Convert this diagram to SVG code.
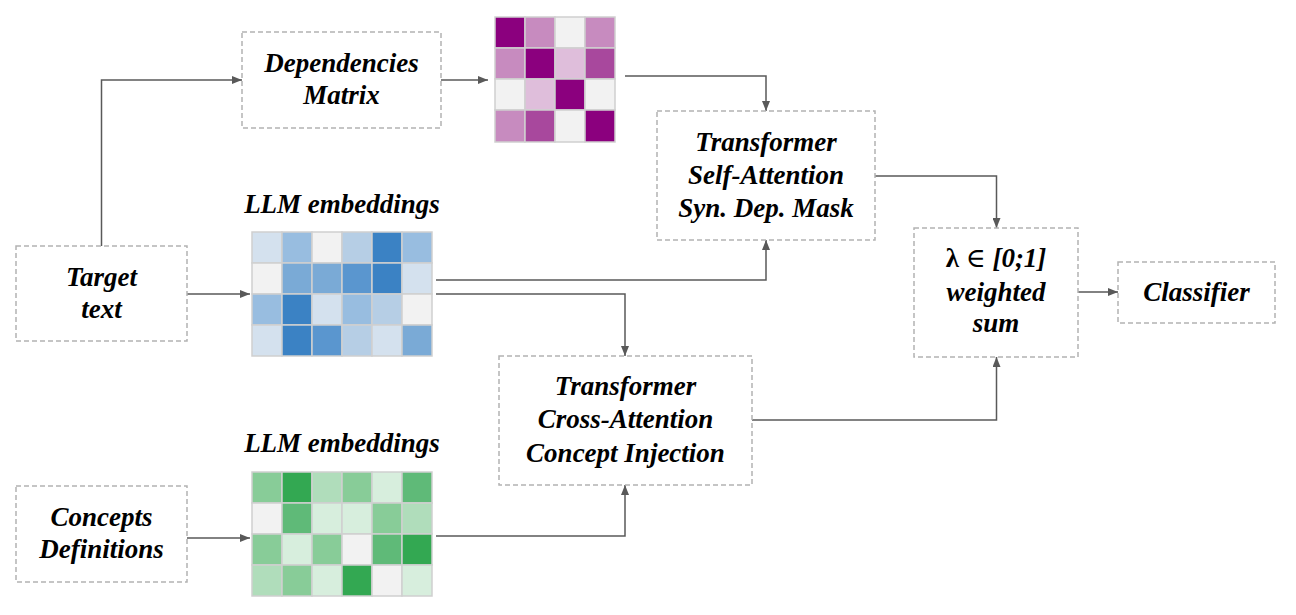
<svg xmlns="http://www.w3.org/2000/svg" width="1296" height="615" viewBox="0 0 1296 615">
<defs>
<marker id="ah" markerWidth="10" markerHeight="8" refX="10" refY="4" orient="auto" markerUnits="userSpaceOnUse">
<path d="M0,0 L10,4 L0,8 z" fill="#595959"/>
</marker>
<style>
.box{fill:#ffffff;stroke:#b3b3b3;stroke-width:1.5;stroke-dasharray:5,3}
.lbl{font-weight:bold;font-style:italic;font-size:27px;fill:#000;text-anchor:middle}
.con{fill:none;stroke:#595959;stroke-width:1.5;marker-end:url(#ah)}
.cell{stroke:#cfcfcf;stroke-width:1.5}
</style>
</defs>
<rect width="1296" height="615" fill="#ffffff"/>

<g id="connectors">
<path class="con" d="M101.5,246 V80 H242"/>
<path class="con" d="M441,80 H488"/>
<path class="con" d="M625,76 H766 V111"/>
<path class="con" d="M187,294 H250"/>
<path class="con" d="M436,280 H766 V240"/>
<path class="con" d="M436,294 H625 V356"/>
<path class="con" d="M187,538 H250"/>
<path class="con" d="M436,536 H625 V485"/>
<path class="con" d="M875,176 H996.5 V228"/>
<path class="con" d="M752,420 H996.5 V357"/>
<path class="con" d="M1078,292 H1118"/>
</g>

<g font-family="Liberation Serif, DejaVu Serif, serif">
<g id="dependencies-matrix">
<rect class="box" x="242" y="32" width="199" height="96"/>
<text class="lbl" x="341.5" y="72">Dependencies</text>
<text class="lbl" x="341.5" y="104">Matrix</text>
</g>

<g id="target-text">
<rect class="box" x="16" y="246" width="171" height="95"/>
<text class="lbl" x="101.5" y="286">Target</text>
<text class="lbl" x="101.5" y="318">text</text>
</g>

<g id="concepts-definitions">
<rect class="box" x="16" y="486" width="171" height="96"/>
<text class="lbl" x="101.5" y="526">Concepts</text>
<text class="lbl" x="101.5" y="558">Definitions</text>
</g>

<g id="self-attention">
<rect class="box" x="657" y="111" width="218" height="129"/>
<text class="lbl" x="766" y="151">Transformer</text>
<text class="lbl" x="766" y="184">Self-Attention</text>
<text class="lbl" x="766" y="217">Syn. Dep. Mask</text>
</g>

<g id="cross-attention">
<rect class="box" x="499" y="356" width="253" height="129"/>
<text class="lbl" x="625.5" y="395">Transformer</text>
<text class="lbl" x="625.5" y="428">Cross-Attention</text>
<text class="lbl" x="625.5" y="462">Concept Injection</text>
</g>

<g id="weighted-sum">
<rect class="box" x="914" y="228" width="164" height="129"/>
<text class="lbl" x="996" y="267"><tspan font-style="normal">λ</tspan><tspan font-style="normal" font-weight="normal"> ∈ </tspan> [0;1]</text>
<text class="lbl" x="996" y="301">weighted</text>
<text class="lbl" x="996" y="332">sum</text>
</g>

<g id="classifier">
<rect class="box" x="1118" y="262" width="157" height="61"/>
<text class="lbl" x="1196.5" y="301">Classifier</text>
</g>

<g id="dependency-heatmap">
<rect class="cell" x="495" y="17" width="30" height="31" fill="#8b007e"/>
<rect class="cell" x="525" y="17" width="30" height="31" fill="#c78bbf"/>
<rect class="cell" x="555" y="17" width="30" height="31" fill="#f2f2f2"/>
<rect class="cell" x="585" y="17" width="30" height="31" fill="#c78bbf"/>
<rect class="cell" x="495" y="48" width="30" height="31" fill="#c78bbf"/>
<rect class="cell" x="525" y="48" width="30" height="31" fill="#8b007e"/>
<rect class="cell" x="555" y="48" width="30" height="31" fill="#dfbedb"/>
<rect class="cell" x="585" y="48" width="30" height="31" fill="#a8489d"/>
<rect class="cell" x="495" y="79" width="30" height="31" fill="#f2f2f2"/>
<rect class="cell" x="525" y="79" width="30" height="31" fill="#dfbedb"/>
<rect class="cell" x="555" y="79" width="30" height="31" fill="#8b007e"/>
<rect class="cell" x="585" y="79" width="30" height="31" fill="#f2f2f2"/>
<rect class="cell" x="495" y="110" width="30" height="32" fill="#c78bbf"/>
<rect class="cell" x="525" y="110" width="30" height="32" fill="#a8489d"/>
<rect class="cell" x="555" y="110" width="30" height="32" fill="#f2f2f2"/>
<rect class="cell" x="585" y="110" width="30" height="32" fill="#8b007e"/>
</g>

<g id="llm-embeddings-target">
<text class="lbl" x="342" y="213">LLM embeddings</text>
<rect class="cell" x="252" y="232" width="30" height="31" fill="#d4e1ee"/>
<rect class="cell" x="282" y="232" width="30" height="31" fill="#98bde0"/>
<rect class="cell" x="312" y="232" width="30" height="31" fill="#f2f2f2"/>
<rect class="cell" x="342" y="232" width="30" height="31" fill="#b6cee5"/>
<rect class="cell" x="372" y="232" width="30" height="31" fill="#3b82c4"/>
<rect class="cell" x="402" y="232" width="30" height="31" fill="#98bde0"/>
<rect class="cell" x="252" y="263" width="30" height="31" fill="#f2f2f2"/>
<rect class="cell" x="282" y="263" width="30" height="31" fill="#7aaad6"/>
<rect class="cell" x="312" y="263" width="30" height="31" fill="#7aaad6"/>
<rect class="cell" x="342" y="263" width="30" height="31" fill="#5a96cf"/>
<rect class="cell" x="372" y="263" width="30" height="31" fill="#3b82c4"/>
<rect class="cell" x="402" y="263" width="30" height="31" fill="#d4e1ee"/>
<rect class="cell" x="252" y="294" width="30" height="31" fill="#98bde0"/>
<rect class="cell" x="282" y="294" width="30" height="31" fill="#3b82c4"/>
<rect class="cell" x="312" y="294" width="30" height="31" fill="#d4e1ee"/>
<rect class="cell" x="342" y="294" width="30" height="31" fill="#98bde0"/>
<rect class="cell" x="372" y="294" width="30" height="31" fill="#b6cee5"/>
<rect class="cell" x="402" y="294" width="30" height="31" fill="#f2f2f2"/>
<rect class="cell" x="252" y="325" width="30" height="31" fill="#d4e1ee"/>
<rect class="cell" x="282" y="325" width="30" height="31" fill="#3b82c4"/>
<rect class="cell" x="312" y="325" width="30" height="31" fill="#5a96cf"/>
<rect class="cell" x="342" y="325" width="30" height="31" fill="#b6cee5"/>
<rect class="cell" x="372" y="325" width="30" height="31" fill="#d4e1ee"/>
<rect class="cell" x="402" y="325" width="30" height="31" fill="#7aaad6"/>
</g>

<g id="llm-embeddings-concepts">
<text class="lbl" x="342" y="452">LLM embeddings</text>
<rect class="cell" x="252" y="472" width="30" height="31" fill="#88cc98"/>
<rect class="cell" x="282" y="472" width="30" height="31" fill="#33a852"/>
<rect class="cell" x="312" y="472" width="30" height="31" fill="#b0ddbb"/>
<rect class="cell" x="342" y="472" width="30" height="31" fill="#88cc98"/>
<rect class="cell" x="372" y="472" width="30" height="31" fill="#d7eedd"/>
<rect class="cell" x="402" y="472" width="30" height="31" fill="#5fba78"/>
<rect class="cell" x="252" y="503" width="30" height="31" fill="#f2f2f2"/>
<rect class="cell" x="282" y="503" width="30" height="31" fill="#5fba78"/>
<rect class="cell" x="312" y="503" width="30" height="31" fill="#d7eedd"/>
<rect class="cell" x="342" y="503" width="30" height="31" fill="#d7eedd"/>
<rect class="cell" x="372" y="503" width="30" height="31" fill="#88cc98"/>
<rect class="cell" x="402" y="503" width="30" height="31" fill="#b0ddbb"/>
<rect class="cell" x="252" y="534" width="30" height="31" fill="#88cc98"/>
<rect class="cell" x="282" y="534" width="30" height="31" fill="#d7eedd"/>
<rect class="cell" x="312" y="534" width="30" height="31" fill="#88cc98"/>
<rect class="cell" x="342" y="534" width="30" height="31" fill="#f2f2f2"/>
<rect class="cell" x="372" y="534" width="30" height="31" fill="#5fba78"/>
<rect class="cell" x="402" y="534" width="30" height="31" fill="#33a852"/>
<rect class="cell" x="252" y="565" width="30" height="31" fill="#b0ddbb"/>
<rect class="cell" x="282" y="565" width="30" height="31" fill="#88cc98"/>
<rect class="cell" x="312" y="565" width="30" height="31" fill="#d7eedd"/>
<rect class="cell" x="342" y="565" width="30" height="31" fill="#33a852"/>
<rect class="cell" x="372" y="565" width="30" height="31" fill="#f2f2f2"/>
<rect class="cell" x="402" y="565" width="30" height="31" fill="#d7eedd"/>
</g>
</g>
</svg>
